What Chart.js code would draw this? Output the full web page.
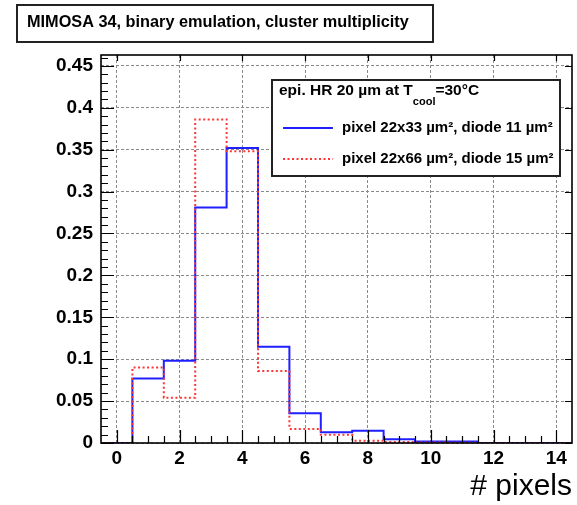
<!DOCTYPE html>
<html>
<head>
<meta charset="utf-8">
<script src="https://cdn.jsdelivr.net/npm/chart.js@4.4.0/dist/chart.umd.min.js"></script>
<style>
  body { margin: 0; background: #fff; }
</style>
</head>
<body>
<canvas id="clusterChart" width="577" height="505"></canvas>
<script>
// histogram bins: centred on integers, width 1
const binCenters = [0, 1, 2, 3, 4, 5, 6, 7, 8, 9, 10, 11, 12, 13, 14];
const binWidth = 1;
const pixel22x33 = [0, 0.077, 0.098, 0.281, 0.352, 0.115, 0.0355, 0.0128, 0.0145, 0.0046, 0.0018, 0.0018, 0, 0, 0];
const pixel22x66 = [0, 0.090, 0.054, 0.386, 0.348, 0.086, 0.0168, 0.0098, 0.0028, 0.0012, 0.0006, 0.0004, 0, 0, 0];
const xTickStep = 2;
const yTickStep = 0.05;

const titleText = "MIMOSA 34, binary emulation, cluster multiplicity";
const legendHeader = ["epi. HR 20 \u00b5m at T", "cool", "=30\u00b0C"];
const seriesLabels = ["pixel 22x33 \u00b5m\u00b2, diode 11 \u00b5m\u00b2", "pixel 22x66 \u00b5m\u00b2, diode 15 \u00b5m\u00b2"];

const FONT = "'Liberation Sans', Arial, sans-serif";

// step outline points (left edges + last right edge)
function histPoints(values) {
    const pts = binCenters.map((c, i) => ({ x: c - binWidth / 2, y: values[i] }));
    pts.push({ x: binCenters[binCenters.length - 1] + binWidth / 2, y: values[values.length - 1] });
    return pts;
}

// ROOT-like frame, inner ticks, title box and legend
const rootStyle = {
    id: "rootStyle",
    afterDraw(chart) {
        const ctx = chart.ctx;
        const a = chart.chartArea;
        const xs = chart.scales.x, ys = chart.scales.y;
        ctx.save();
        ctx.strokeStyle = "#000";
        ctx.lineWidth = 1.2;
        ctx.beginPath();
        // y ticks
        for (let k = 0; k <= 46; k++) {
            const v = k * 0.01;
            if (v > ys.max) break;
            const py = Math.round(ys.getPixelForValue(v)) + 0.5;
            const major = k % 5 === 0;
            ctx.moveTo(a.left, py); ctx.lineTo(a.left + (major ? 13 : 7), py);
            if (major) { ctx.moveTo(a.right, py); ctx.lineTo(a.right - 7, py); }
        }
        // x ticks
        for (let v = 0; v <= 14.01; v += 0.5) {
            const px = Math.round(xs.getPixelForValue(v)) + 0.5;
            const major = Math.abs(v % xTickStep) < 1e-6;
            ctx.moveTo(px, a.bottom); ctx.lineTo(px, a.bottom - (major ? 13 : 7));
            if (major) { ctx.moveTo(px, a.top); ctx.lineTo(px, a.top + 6); }
        }
        ctx.stroke();

        // frame
        ctx.lineWidth = 1.6;
        ctx.strokeRect(a.left, a.top, a.right - a.left, a.bottom - a.top);

        // title box
        ctx.lineWidth = 2;
        ctx.strokeStyle = "#222";
        ctx.fillStyle = "#fff";
        ctx.fillRect(17, 5, 416, 37);
        ctx.strokeRect(17, 5, 416, 37);
        ctx.fillStyle = "#000";
        ctx.font = "bold 16.3px " + FONT;
        ctx.textBaseline = "middle";
        ctx.fillText(titleText, 27, 23);

        // legend box
        ctx.fillStyle = "#fff";
        ctx.fillRect(272, 80, 288, 96);
        ctx.strokeRect(272, 80, 288, 96);
        ctx.fillStyle = "#000";
        ctx.font = "bold 15.5px " + FONT;
        let tx = 279;
        ctx.fillText(legendHeader[0], tx, 91);
        tx += ctx.measureText(legendHeader[0]).width;
        ctx.font = "bold 11px " + FONT;
        ctx.fillText(legendHeader[1], tx, 102);
        tx += ctx.measureText(legendHeader[1]).width;
        ctx.font = "bold 15.5px " + FONT;
        ctx.fillText(legendHeader[2], tx, 91);

        ctx.font = "bold 15px " + FONT;
        const rows = [128, 159];
        chart.data.datasets.forEach((ds, i) => {
            const y = rows[i];
            ctx.strokeStyle = ds.borderColor;
            ctx.lineWidth = ds.borderWidth;
            ctx.setLineDash(ds.borderDash || []);
            ctx.beginPath();
            ctx.moveTo(283, y); ctx.lineTo(333, y);
            ctx.stroke();
            ctx.setLineDash([]);
            ctx.fillStyle = "#000";
            ctx.fillText(ds.label, 342, y);
        });
        ctx.restore();
    }
};

const tickFont = { family: FONT, size: 19, weight: "bold" };

new Chart(document.getElementById("clusterChart").getContext("2d"), {
    type: "line",
    data: {
        datasets: [{
            label: seriesLabels[0],
            data: histPoints(pixel22x33),
            borderColor: "#1f1fff",
            borderWidth: 2,
            stepped: "before",
            pointRadius: 0,
            fill: false,
            order: 2
        }, {
            label: seriesLabels[1],
            data: histPoints(pixel22x66),
            borderColor: "#ff3535",
            borderWidth: 2,
            borderDash: [2, 2.5],
            stepped: "before",
            pointRadius: 0,
            fill: false,
            order: 1
        }]
    },
    options: {
        responsive: false,
        animation: false,
        layout: { padding: { top: 55, right: 5, left: 0, bottom: 0 } },
        plugins: { legend: { display: false }, tooltip: { enabled: false } },
        scales: {
            x: {
                type: "linear",
                min: -0.5,
                max: 14.5,
                afterFit: s => { s.height = 62; },
                ticks: { stepSize: xTickStep, includeBounds: false, color: "#000", font: tickFont, padding: 4, maxRotation: 0, autoSkip: false },
                grid: { color: "#8a8a8a", lineWidth: 1, drawTicks: false },
                border: { display: false, dash: [3, 2] },
                title: { display: true, text: "# pixels", align: "end", color: "#000", font: { family: FONT, size: 30 }, padding: { top: 0, bottom: 0 } }
            },
            y: {
                min: 0,
                max: 0.463,
                afterFit: s => { s.width = 101; },
                ticks: { stepSize: yTickStep, includeBounds: false, color: "#000", font: tickFont, padding: 8, callback: v => String(+v.toFixed(2)) },
                grid: { color: "#8a8a8a", lineWidth: 1, drawTicks: false },
                border: { display: false, dash: [3, 2] }
            }
        }
    },
    plugins: [rootStyle]
});
</script>
</body>
</html>
